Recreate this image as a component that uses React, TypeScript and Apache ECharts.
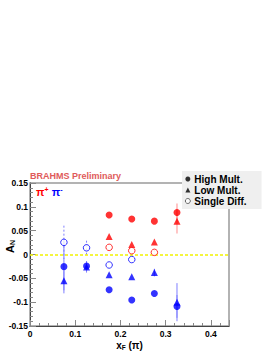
import React, { useEffect, useRef } from "react";
import * as echarts from "echarts";

const xF = [0.075, 0.125, 0.175, 0.225, 0.275, 0.325];

const redHigh = [null, null, 0.083, 0.0745, 0.07, 0.088];
const redHighErr = [0, 0, 0, 0, 0, 0.019];
const redLow = [null, null, 0.038, 0.021, 0.026, 0.07];
const redLowErr = [0, 0, 0, 0, 0, 0.026];
const redSD = [null, null, 0.015, 0.008, 0.0045, null];
const redSDErr = [0, 0, 0, 0, 0.006, 0];

const blueHigh = [-0.0255, -0.024, -0.074, -0.0955, -0.082, -0.109];
const blueHighErr = [0.056, 0.01, 0, 0, 0, 0.024];
const blueLow = [-0.055, -0.026, -0.0425, -0.0465, -0.038, -0.1];
const blueLowErr = [0.02, 0.012, 0, 0, 0.008, 0.04];
const blueSD = [0.0255, 0.014, -0.022, -0.0106, null, null];
const blueSDErr = [0.035, 0.015, 0, 0, 0, 0];

const legendNames = ["High Mult.", "Low Mult.", "Single Diff."];
const yTicks = { min: -0.15, max: 0.15, interval: 0.05 };
const xTicks = { min: 0, max: 0.44, interval: 0.1 };

const RED = "#ff0000";
const BLUE = "#0000ff";
const RED_ERR = "#ff8c8c";
const BLUE_ERR = "#7f7fff";

function pts(vals: (number | null)[]) {
  const out: number[][] = [];
  vals.forEach((v, i) => {
    if (v !== null) out.push([xF[i], v]);
  });
  return out;
}
function errs(vals: (number | null)[], e: number[]) {
  const out: number[][] = [];
  vals.forEach((v, i) => {
    if (v !== null && e[i] > 0) out.push([xF[i], v, e[i]]);
  });
  return out;
}

function errSeries(data: number[][], color: string, dashed: boolean) {
  return {
    type: "custom",
    data,
    z: 1,
    silent: true,
    renderItem: (params: any, api: any) => {
      const x = api.value(0);
      const y = api.value(1);
      const e = api.value(2);
      const p1 = api.coord([x, y + e]);
      const p2 = api.coord([x, y - e]);
      return {
        type: "line",
        shape: { x1: p1[0], y1: p1[1], x2: p2[0], y2: p2[1] },
        style: { stroke: color, lineWidth: 1, lineDash: dashed ? [2, 2] : null },
      };
    },
  };
}

function scat(data: number[][], color: string, symbol: string, size: number, empty = false) {
  return {
    type: "scatter",
    data,
    symbol,
    symbolSize: size,
    z: 5,
    itemStyle: empty ? { color: "#ffffff", borderColor: color, borderWidth: 1 } : { color },
  };
}

export default function App() {
  const ref = useRef<HTMLDivElement>(null);
  useEffect(() => {
    if (!ref.current) return;
    const chart = echarts.init(ref.current, null, { renderer: "svg" });
    const font = "Liberation Sans, Arial, Helvetica, sans-serif";
    chart.setOption({
      animation: false,
      backgroundColor: "#ffffff",
      textStyle: { fontFamily: font },
      grid: {
        left: 30,
        top: 183,
        width: 199,
        height: 147,
        show: true,
        borderColor: "#9a9a9a",
        borderWidth: 1.5,
        backgroundColor: "transparent",
      },
      legend: {
        orient: "vertical",
        left: 182,
        top: 171,
        data: [
          { name: legendNames[0] },
          { name: legendNames[1] },
          { name: legendNames[2], itemStyle: { color: "#ffffff", borderColor: "#000", borderWidth: 0.7 } },
        ],
        backgroundColor: "#efefef",
        padding: [3, 15, 3, 3],
        itemWidth: 5,
        itemHeight: 5,
        itemGap: 1,
        selectedMode: false,
        textStyle: { fontFamily: font, fontWeight: "bold", fontSize: 10, color: "#000", padding: [0, 0, 0, -1] },
      },
      xAxis: {
        type: "value",
        min: xTicks.min,
        max: xTicks.max,
        interval: xTicks.interval,
        splitLine: { show: false },
        axisLine: { show: true, onZero: false, lineStyle: { color: "#444", width: 1 } },
        axisTick: { inside: true, length: 6, lineStyle: { color: "#888" } },
        minorTick: { show: true, splitNumber: 5, length: 3, lineStyle: { color: "#888" } },
        axisLabel: {
          margin: 3,
          fontFamily: font,
          fontWeight: "bold",
          fontSize: 8.5,
          color: "#000",
          showMinLabel: true,
          showMaxLabel: false,
          hideOverlap: false,
        },
        name: "{a|x}{s|F}{a| (π)}",
        nameLocation: "middle",
        nameGap: 13,
        nameTextStyle: {
          rich: {
            a: { fontFamily: font, fontWeight: "bold", fontSize: 10, color: "#000" },
            s: { fontFamily: font, fontWeight: "bold", fontSize: 6.5, color: "#000", padding: [5, 0, 0, 0] },
          },
        },
      },
      yAxis: {
        type: "value",
        min: yTicks.min,
        max: yTicks.max,
        interval: yTicks.interval,
        splitLine: { show: false },
        axisLine: { show: true, onZero: false, lineStyle: { color: "#444", width: 1 } },
        axisTick: { inside: true, length: 6, lineStyle: { color: "#888" } },
        minorTick: { show: true, splitNumber: 5, length: 3, lineStyle: { color: "#888" } },
        axisLabel: {
          margin: 2,
          fontFamily: font,
          fontWeight: "bold",
          fontSize: 8.5,
          color: "#000",
          showMinLabel: true,
          hideOverlap: false,
        },
      },
      graphic: [
        {
          type: "text",
          left: 30,
          top: 171,
          style: { text: "BRAHMS Preliminary", fill: "#e05a5a", font: "bold 9px " + font },
        },
        {
          type: "text",
          left: 36,
          top: 186,
          style: {
            text: "{r|π}{rs|+} {b|π}{bs|-}",
            rich: {
              r: { fill: RED, font: "bold 11px " + font },
              rs: { fill: RED, font: "bold 7px " + font, padding: [0, 0, 5, 0] },
              b: { fill: BLUE, font: "bold 11px " + font },
              bs: { fill: BLUE, font: "bold 7px " + font, padding: [0, 0, 5, 0] },
            },
          },
        },
        {
          type: "text",
          x: 4,
          y: 253,
          rotation: Math.PI / 2,
          style: {
            text: "{a|A}{s|N}",
            rich: {
              a: { fill: "#000", font: "bold 11px " + font },
              s: { fill: "#000", font: "bold 7px " + font, padding: [5, 0, 0, 0] },
            },
          },
        },
      ],
      series: [
        errSeries(errs(redHigh, redHighErr), RED_ERR, false),
        errSeries(errs(redLow, redLowErr), RED_ERR, false),
        errSeries(errs(redSD, redSDErr), RED_ERR, true),
        errSeries(errs(blueHigh, blueHighErr), BLUE_ERR, false),
        errSeries(errs(blueLow, blueLowErr), BLUE_ERR, false),
        errSeries(errs(blueSD, blueSDErr), BLUE_ERR, true),
        {
          type: "line",
          data: [],
          markLine: {
            silent: true,
            symbol: "none",
            label: { show: false },
            lineStyle: { color: "#f2f200", type: [3, 2], width: 1.5 },
            data: [{ yAxis: 0 }],
          },
        },
        scat(pts(redHigh), RED, "circle", 7),
        scat(pts(redLow), RED, "triangle", 7),
        scat(pts(redSD), RED, "circle", 6.5, true),
        scat(pts(blueHigh), BLUE, "circle", 7),
        scat(pts(blueLow), BLUE, "triangle", 7),
        scat(pts(blueSD), BLUE, "circle", 6.5, true),
        { name: legendNames[0], type: "scatter", data: [], symbol: "circle", itemStyle: { color: "#000" } },
        { name: legendNames[1], type: "scatter", data: [], symbol: "triangle", itemStyle: { color: "#000" } },
        {
          name: legendNames[2],
          type: "scatter",
          data: [],
          symbol: "circle",
          itemStyle: { color: "#ffffff", borderColor: "#000", borderWidth: 0.7 },
        },
      ],
    });
    return () => chart.dispose();
  }, []);
  return <div ref={ref} style={{ width: 272, height: 352, position: "absolute", left: 0, top: 0 }} />;
}
